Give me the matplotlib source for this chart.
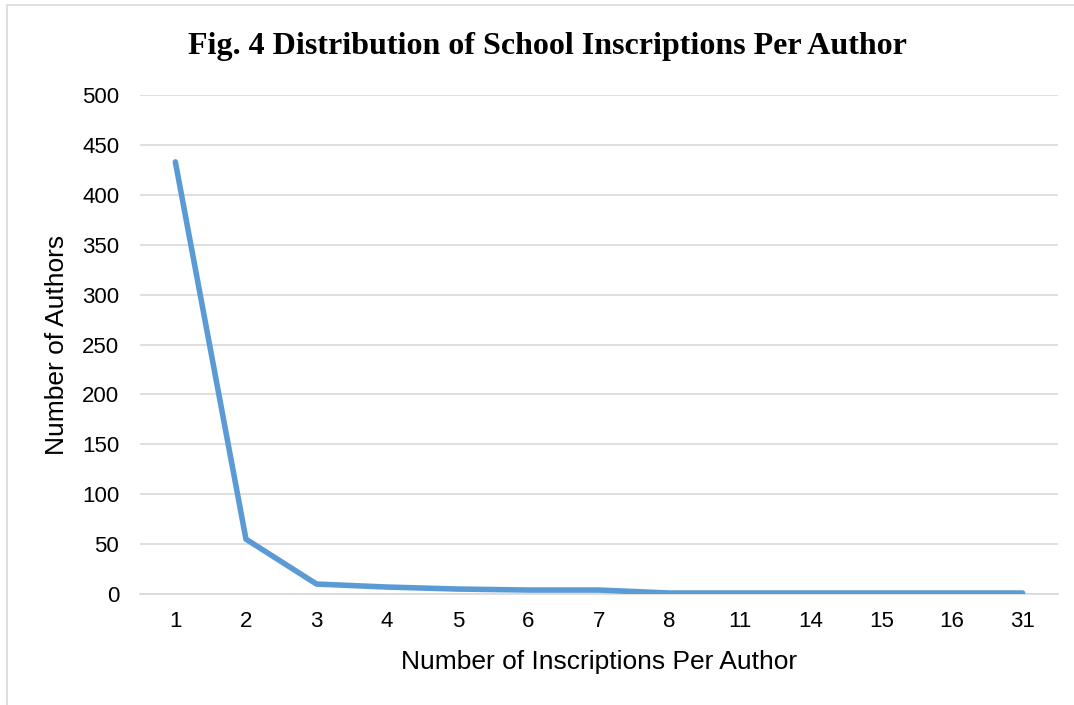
import matplotlib.pyplot as plt
from matplotlib.patches import Rectangle

# data
inscriptions = ['1', '2', '3', '4', '5', '6', '7', '8', '11', '14', '15', '16', '31']
authors = [433, 55, 10, 7, 5, 4, 4, 1, 1, 1, 1, 1, 1]

fig = plt.figure(figsize=(10.74, 7.05), dpi=100)
ax = fig.add_axes([0.1304, 0.1574, 0.8546, 0.7078])

x = range(len(inscriptions))
ax.plot(x, authors, color='#5B9BD5', lw=4, solid_capstyle='round', zorder=3)

ax.set_xlim(-0.5, len(inscriptions) - 0.5)
ax.set_ylim(0, 500)
ax.set_yticks(range(0, 501, 50))
ax.set_xticks(list(x))
ax.set_xticklabels(inscriptions)
ax.grid(axis='y', color='#D9D9D9', lw=1.2)
ax.set_axisbelow(True)
for s in ['top', 'right', 'left']:
    ax.spines[s].set_visible(False)
ax.spines['bottom'].set_color('#D9D9D9')
ax.spines['bottom'].set_linewidth(1.2)
ax.tick_params(length=0, labelsize=16, labelcolor='black')
ax.tick_params(axis='x', pad=12)
ax.tick_params(axis='y', pad=15)
for lab in ax.get_xticklabels() + ax.get_yticklabels():
    lab.set_family('Liberation Sans')

ax.set_xlabel('Number of Inscriptions Per Author', family='Liberation Sans', fontsize=19)
ax.set_ylabel('Number of Authors', family='Liberation Sans', fontsize=19)
ax.xaxis.set_label_coords(0.5, -0.1125)
ax.yaxis.set_label_coords(-0.077, 0.5)

fig.text(0.5095, 0.934, 'Fig. 4 Distribution of School Inscriptions Per Author',
         family='Liberation Serif', weight='bold', fontsize=23, ha='center', va='center')

# outer chart frame
fig.patches.append(Rectangle((0.0065, -0.01), 1.0, 1.003, transform=fig.transFigure,
                             fill=False, edgecolor='#D9D9D9', lw=1.2))

fig.savefig('out.png', dpi=100)
